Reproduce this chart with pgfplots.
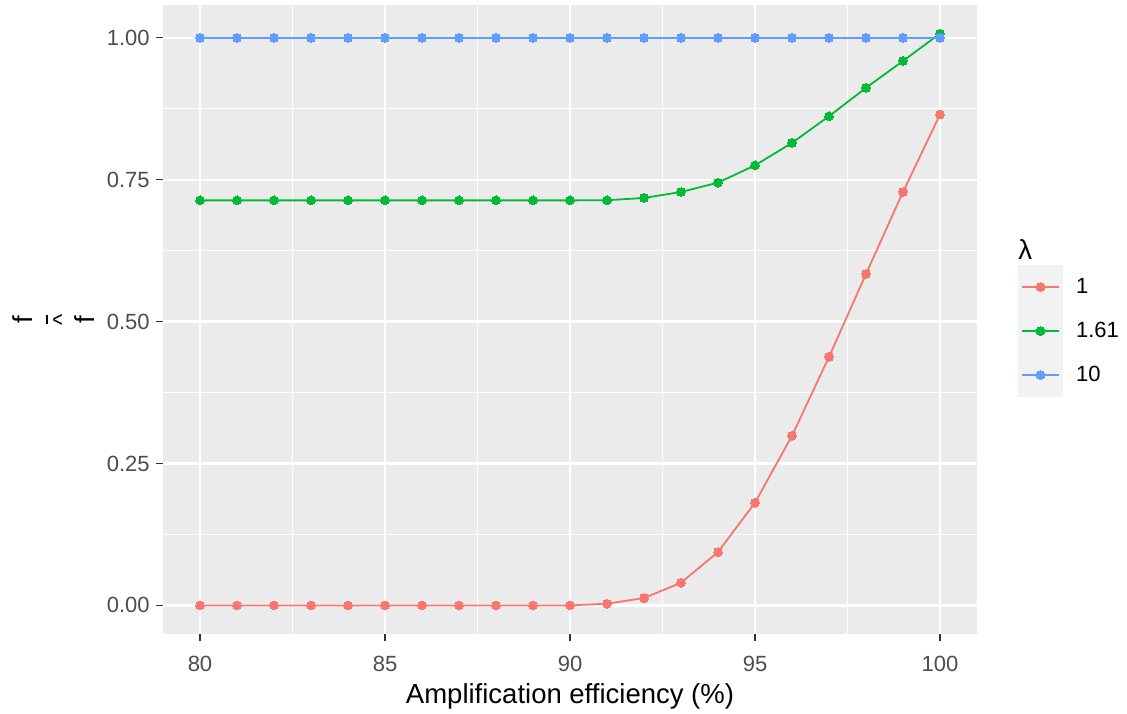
\documentclass[border=0pt]{standalone}
\usepackage{pgfplots}
\pgfplotsset{compat=1.18}
\usepackage{fontspec}
\setmainfont{Liberation Sans}
\definecolor{panelbg}{HTML}{EBEBEB}
\definecolor{keybg}{HTML}{F2F2F2}
\definecolor{ticklab}{HTML}{4D4D4D}
\definecolor{tickcol}{HTML}{333333}
\definecolor{cR}{HTML}{F8766D}
\definecolor{cG}{HTML}{00BA38}
\definecolor{cB}{HTML}{619CFF}
\newcommand{\ylab}{\vbox{\offinterlineskip\halign{\hfil##\hfil\cr
  f\cr
  \noalign{\kern 7pt}
  \rule{4.5pt}{0.9pt}\cr
  \noalign{\kern 2.5pt}
  \fontsize{12}{12}\selectfont\raisebox{-4pt}[4.5pt][0pt]{\textasciicircum}\cr
  \noalign{\kern 6.5pt}
  f\cr}}}
\pgfplotsset{
  keyimg/.style={legend image code/.code={
    \fill[fill=keybg, draw=none] (0pt,-11pt) rectangle (22.5pt,11pt);
    \path[draw=none, fill=none] (0pt,0pt) -- (29pt,0pt);
    \draw[mark repeat=2, mark phase=2] plot coordinates {(2pt,0pt) (11.25pt,0pt) (20.5pt,0pt)};
  }},
  ser/.style={#1, line width=0.9pt, mark=*, mark size=2.2pt,
    mark options={draw=#1, fill=#1, line width=0pt, solid}, keyimg},
}
\begin{document}
\begin{tikzpicture}
\useasboundingbox (0,0) rectangle (563.5pt,356.5pt);
\begin{axis}[
  at={(81.5pt,39.5pt)}, anchor=south west,
  scale only axis, width=407pt, height=314.5pt,
  xmin=79, xmax=101, ymin=-0.0504, ymax=1.058,
  axis x line*=bottom, axis y line*=left,
  axis line style={draw=none, -},
  axis background/.style={fill=panelbg},
  xtick={80,85,90,95,100}, xticklabels={80,85,90,95,100},
  ytick={0,0.25,0.5,0.75,1}, yticklabels={0.00,0.25,0.50,0.75,1.00},
  minor xtick={82.5,87.5,92.5,97.5}, minor ytick={0.125,0.375,0.625,0.875},
  grid=both,
  major grid style={draw=white, line width=1.2pt},
  minor grid style={draw=white, line width=0.6pt},
  tick align=outside, major tick length=3.5pt, minor tick length=0pt,
  tick style={draw=tickcol, line width=0.55pt},
  xticklabel style={font=\fontsize{11}{13}\selectfont, text=ticklab, anchor=base, yshift=-15pt, inner sep=0pt},
  yticklabel style={font=\fontsize{11}{13}\selectfont, text=ticklab, anchor=east, xshift=-3pt, inner sep=0pt},
  xlabel={Amplification efficiency (\%)},
  xlabel style={at={(axis description cs:0.5,-0.1097)}, anchor=base, font=\fontsize{13.75}{16}\selectfont, inner sep=0pt},
  ylabel={\ylab},
  ylabel style={at={(axis description cs:-0.1345,0.5)}, anchor=center, font=\fontsize{13.75}{16}\selectfont, inner sep=0pt},
  clip=false,
  legend cell align=left,
  legend style={at={(axis description cs:1.0504,0.5866)}, anchor=north west,
    draw=none, fill=none, inner sep=0pt, outer sep=0pt, row sep=0pt, column sep=0pt,
    nodes={inner sep=0pt, text=black, font=\fontsize{11}{13}\selectfont}},
]
\addplot[ser=cR] coordinates {
(80,0) (81,0) (82,0) (83,0) (84,0) (85,0) (86,0) (87,0) (88,0) (89,0) (90,0)
(91,0.003) (92,0.013) (93,0.040) (94,0.094) (95,0.181) (96,0.299) (97,0.438)
(98,0.584) (99,0.7285) (100,0.865)};
\addlegendentry{1}
\addplot[ser=cG] coordinates {
(80,0.7137) (81,0.7137) (82,0.7137) (83,0.7137) (84,0.7137) (85,0.7137) (86,0.7137)
(87,0.7137) (88,0.7137) (89,0.7137) (90,0.7137) (91,0.7140) (92,0.718) (93,0.7285)
(94,0.745) (95,0.7754) (96,0.815) (97,0.862) (98,0.912) (99,0.9594) (100,1.0076)};
\addlegendentry{1.61}
\addplot[ser=cB] coordinates {
(80,1) (81,1) (82,1) (83,1) (84,1) (85,1) (86,1) (87,1) (88,1) (89,1) (90,1)
(91,1) (92,1) (93,1) (94,1) (95,1) (96,1) (97,1) (98,1) (99,1) (100,1)};
\addlegendentry{10}
\node[anchor=base west, inner sep=0pt, font=\fontsize{13.75}{16}\selectfont] at (axis description cs:1.0504,0.5946) {λ};
\end{axis}
\end{tikzpicture}
\end{document}
